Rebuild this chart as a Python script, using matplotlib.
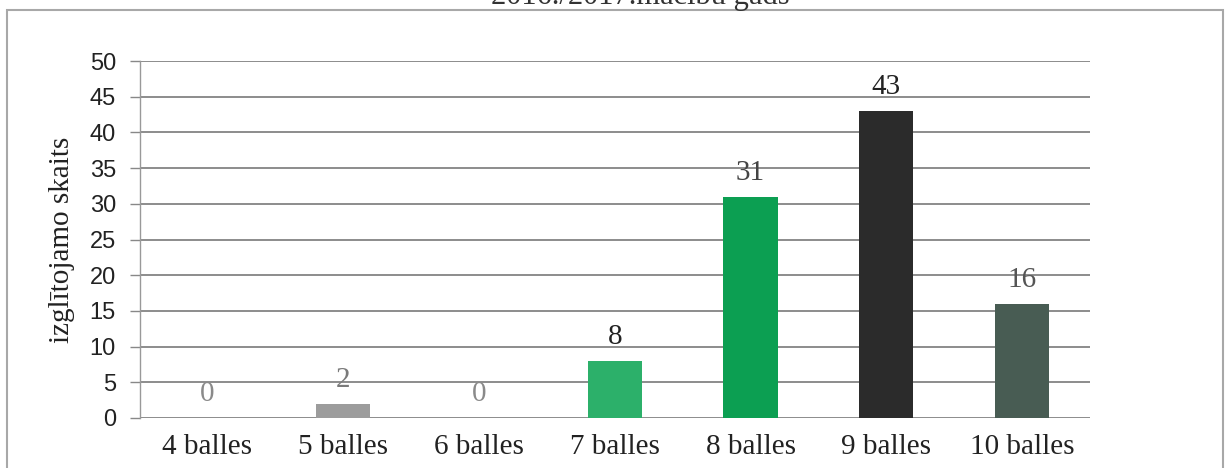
import matplotlib
matplotlib.use("Agg")
import matplotlib.pyplot as plt
from matplotlib.patches import Rectangle

categories = ["4 balles", "5 balles", "6 balles", "7 balles", "8 balles", "9 balles", "10 balles"]
values = [0, 2, 0, 8, 31, 43, 16]
bar_colors = ["#9a9a9a", "#9c9c9c", "#9a9a9a", "#2cb06a", "#0c9f52", "#2b2b2b", "#485c53"]
label_colors = ["#8a8a8a", "#7a7a7a", "#8a8a8a", "#222222", "#444444", "#222222", "#555555"]
yticks = [0, 5, 10, 15, 20, 25, 30, 35, 40, 45, 50]
title = "2016./2017.mācību gads"
ylabel = "izglītojamo skaits"

W, H = 1225, 468
fig = plt.figure(figsize=(W / 100, H / 100), dpi=100)
fig.patch.set_facecolor("white")

left, right, top, bottom = 139.5, 1090, 61, 418
ax = fig.add_axes([left / W, 1 - bottom / H, (right - left) / W, (bottom - top) / H])

x = list(range(len(categories)))
ax.bar(x, values, width=0.40, color=bar_colors, zorder=3)
ax.set_xlim(-0.5, len(categories) - 0.5)
ax.set_ylim(0, 50)
ax.set_yticks(yticks)
ax.set_yticklabels([str(t) for t in yticks], fontfamily="Liberation Sans", fontsize=17, color="#222222")
ax.yaxis.grid(True, color="#6e6e6e", linewidth=1.1, zorder=0)
ax.set_axisbelow(True)
ax.tick_params(axis="y", length=7, width=1.0, color="#888888", pad=10)
ax.tick_params(axis="x", length=0, pad=11.5)
ax.set_xticks(x)
ax.set_xticklabels(categories, fontfamily="Liberation Serif", fontsize=21, color="#222222")

for s in ["top", "right", "bottom"]:
    ax.spines[s].set_visible(False)
ax.spines["left"].set_color("#999999")
ax.spines["left"].set_linewidth(1.0)

for xi, v, c in zip(x, values, label_colors):
    ax.annotate(str(v), (xi, v), xytext=(0, 8), textcoords="offset points",
                ha="center", va="bottom", fontfamily="Liberation Serif", fontsize=21, color=c)

ax.set_ylabel(ylabel, fontfamily="Liberation Serif", fontsize=21, color="#222222")
ax.yaxis.set_label_coords(-0.068, 0.5)

fig.text(640 / W, 1 - 4 / H, title, ha="center", va="baseline",
         fontfamily="Liberation Serif", fontsize=22, color="#333333")

frame = Rectangle((7 / W, -0.1), (1223 - 7) / W, 1.1 - 10 / H, transform=fig.transFigure,
                  fill=False, edgecolor="#a8a8a8", linewidth=1.5)
fig.add_artist(frame)

fig.savefig("out.png", dpi=100, facecolor="white")
